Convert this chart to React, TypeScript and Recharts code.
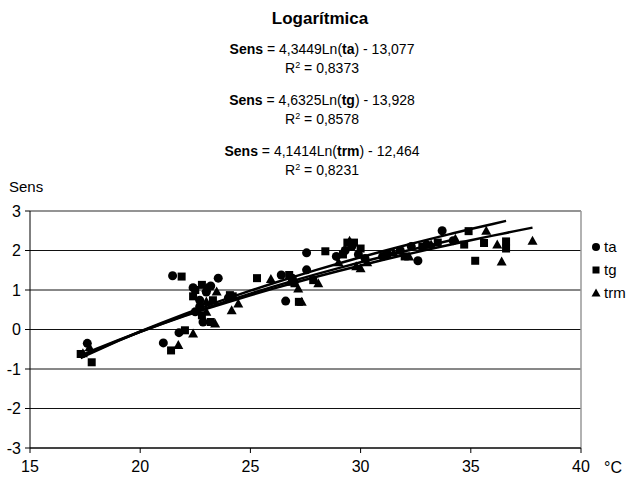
import React from 'react';
import { ScatterChart, Scatter, XAxis, YAxis, CartesianGrid, ReferenceLine } from 'recharts';

const taX = [17.6, 21.05, 21.76, 21.47, 22.4, 23.2, 22.7, 22.5, 22.85, 22.7, 23.54, 23.0, 24.0, 26.4, 26.6, 27.55, 27.55, 26.9, 28.9, 29.3, 29.6, 29.9, 30.2, 31.0, 31.8, 32.3, 32.6, 33.0, 33.7, 34.2];
const taY = [-0.35, -0.34, -0.08, 1.36, 1.06, 1.1, 0.74, 0.45, 0.19, 0.58, 1.3, 0.95, 0.8, 1.38, 0.72, 1.94, 1.51, 1.3, 1.85, 2.0, 2.1, 1.9, 1.8, 1.85, 2.0, 2.1, 1.74, 2.15, 2.5, 2.25];

const tgX = [17.3, 17.8, 21.4, 22.03, 21.88, 22.8, 22.4, 23.3, 22.8, 23.2, 22.5, 24.07, 24.2, 25.3, 26.76, 27.0, 27.2, 27.85, 28.4, 29.2, 29.4, 29.7, 30.0, 31.2, 32.0, 32.8, 33.5, 34.7, 34.9, 35.2, 35.6, 36.6, 36.6];
const tgY = [-0.62, -0.83, -0.53, -0.02, 1.34, 1.13, 0.84, 0.74, 0.36, 0.19, 1.0, 0.87, 0.84, 1.3, 1.38, 1.17, 0.7, 1.25, 1.98, 1.9, 2.2, 2.2, 2.05, 1.9, 1.85, 2.1, 2.2, 2.15, 2.49, 1.74, 2.19, 2.23, 2.05];

const trmX = [17.4, 17.7, 21.73, 22.4, 23.0, 23.47, 23.0, 23.0, 23.4, 24.15, 24.45, 25.93, 26.8, 27.17, 27.33, 28.08, 29.0, 29.5, 29.8, 30.0, 30.3, 31.5, 32.2, 33.2, 34.3, 35.7, 36.2, 36.4, 37.8];
const trmY = [-0.6, -0.45, -0.39, -0.1, 1.05, 0.96, 0.71, 0.45, 0.15, 0.49, 0.66, 1.28, 1.21, 1.04, 0.7, 1.17, 1.7, 2.25, 1.6, 1.55, 1.7, 1.95, 1.85, 2.15, 2.3, 2.5, 2.15, 1.72, 2.25];

// trendline coefficients shown on the chart: Sens = a*Ln(t) + b
const taFit = [4.3449, -13.077];
const tgFit = [4.6325, -13.928];
const trmFit = [4.1414, -12.464];

const xTicks = [15, 20, 25, 30, 35, 40];
const yTicks = [-3, -2, -1, 0, 1, 2, 3];
const sampleX = [17, 17.3, 17.6, 18, 19, 20, 21, 22, 23, 24, 25, 26, 27, 28, 29, 30, 31, 32, 33, 34, 34.2, 35, 36, 36.6, 37, 37.8];

const toPts = (xs: number[], ys: number[]) => xs.map((x, i) => ({ x, y: ys[i] }));
const trend = (fit: number[], xs: number[]) => {
  const lo = Math.min(...xs);
  const hi = Math.max(...xs);
  const pts = sampleX.filter((x) => x > lo && x < hi);
  return [lo, ...pts, hi].map((x) => ({ x, y: fit[0] * Math.log(x) + fit[1] }));
};

const FONT = '"Liberation Sans", Arial, sans-serif';

const Circle = (p: any) => <circle cx={p.cx} cy={p.cy} r={4.5} fill="#000" />;
const Square = (p: any) => <rect x={p.cx - 4} y={p.cy - 4} width={8} height={8} fill="#000" />;
const Tri = (p: any) => (
  <polygon points={`${p.cx},${p.cy - 5} ${p.cx + 5},${p.cy + 4} ${p.cx - 5},${p.cy + 4}`} fill="#000" />
);
const NoShape = () => <g />;

const lineStyle = { stroke: '#000', strokeWidth: 2.5 };

const Eq = ({ top, v, a, b }: { top: number; v: string; a: string; b: string }) => (
  <div style={{ position: 'absolute', left: 0, width: 644, top, textAlign: 'center', fontSize: 14, lineHeight: '16px', whiteSpace: 'nowrap' }}>
    <b>Sens</b> = {a}Ln(<b>{v}</b>) - {b}
  </div>
);
const R2 = ({ top, r }: { top: number; r: string }) => (
  <div style={{ position: 'absolute', left: 0, width: 644, top, textAlign: 'center', fontSize: 14, lineHeight: '16px', whiteSpace: 'nowrap' }}>
    R<sup style={{ fontSize: 9, verticalAlign: 'top', position: 'relative', top: -3 }}>2</sup> = {r}
  </div>
);

export default function App() {
  return (
    <div style={{ position: 'absolute', left: 0, top: 0, width: 639, height: 482, fontFamily: FONT, color: '#000', background: '#fff' }}>
      <ScatterChart width={639} height={482} margin={{ top: 211, right: 58, bottom: 9, left: 5 }}>
        <CartesianGrid horizontal vertical={false} stroke="#111" strokeWidth={1} />
        <XAxis
          type="number"
          dataKey="x"
          domain={[15, 40]}
          ticks={xTicks}
          allowDataOverflow
          height={25}
          tickSize={5}
          tickMargin={8}
          axisLine={{ stroke: '#000' }}
          tickLine={{ stroke: '#000' }}
          tick={{ fill: '#000', fontSize: 16, fontFamily: FONT }}
        />
        <YAxis
          type="number"
          dataKey="y"
          domain={[-3, 3]}
          ticks={yTicks}
          allowDataOverflow
          width={25}
          tickSize={5}
          tickMargin={4}
          axisLine={{ stroke: '#000' }}
          tickLine={{ stroke: '#000' }}
          tick={{ fill: '#000', fontSize: 16, fontFamily: FONT }}
        />
        <ReferenceLine y={3} stroke="#999" strokeWidth={1.5} />
        <ReferenceLine x={40} stroke="#999" strokeWidth={1.5} />
        <Scatter name="ta" data={toPts(taX, taY)} shape={Circle} isAnimationActive={false} />
        <Scatter name="tg" data={toPts(tgX, tgY)} shape={Square} isAnimationActive={false} />
        <Scatter name="trm" data={toPts(trmX, trmY)} shape={Tri} isAnimationActive={false} />
        <Scatter data={trend(taFit, taX)} line={lineStyle} shape={NoShape} isAnimationActive={false} legendType="none" />
        <Scatter data={trend(tgFit, tgX)} line={lineStyle} shape={NoShape} isAnimationActive={false} legendType="none" />
        <Scatter data={trend(trmFit, trmX)} line={lineStyle} shape={NoShape} isAnimationActive={false} legendType="none" />
      </ScatterChart>

      <div style={{ position: 'absolute', left: 0, width: 640, top: 9, textAlign: 'center', fontSize: 17, fontWeight: 'bold', lineHeight: '20px' }}>
        Logarítmica
      </div>
      <Eq top={41} v="ta" a="4,3449" b="13,077" />
      <R2 top={60} r="0,8373" />
      <Eq top={92} v="tg" a="4,6325" b="13,928" />
      <R2 top={111} r="0,8578" />
      <Eq top={143} v="trm" a="4,1414" b="12,464" />
      <R2 top={162} r="0,8231" />
      <div style={{ position: 'absolute', left: 9, top: 178, fontSize: 15, lineHeight: '18px' }}>Sens</div>
      <div style={{ position: 'absolute', left: 604, top: 459, fontSize: 16, lineHeight: '18px' }}>°C</div>

      <svg style={{ position: 'absolute', left: 590, top: 238 }} width={12} height={64}>
        <circle cx={6} cy={9} r={4} fill="#000" />
        <rect x={2.5} y={28.5} width={7} height={7} fill="#000" />
        <polygon points="6,50.5 10.5,58.5 1.5,58.5" fill="#000" />
      </svg>
      <div style={{ position: 'absolute', left: 604, top: 238, fontSize: 15, lineHeight: '18px' }}>ta</div>
      <div style={{ position: 'absolute', left: 604, top: 261, fontSize: 15, lineHeight: '18px' }}>tg</div>
      <div style={{ position: 'absolute', left: 604, top: 284, fontSize: 15, lineHeight: '18px' }}>trm</div>
    </div>
  );
}
